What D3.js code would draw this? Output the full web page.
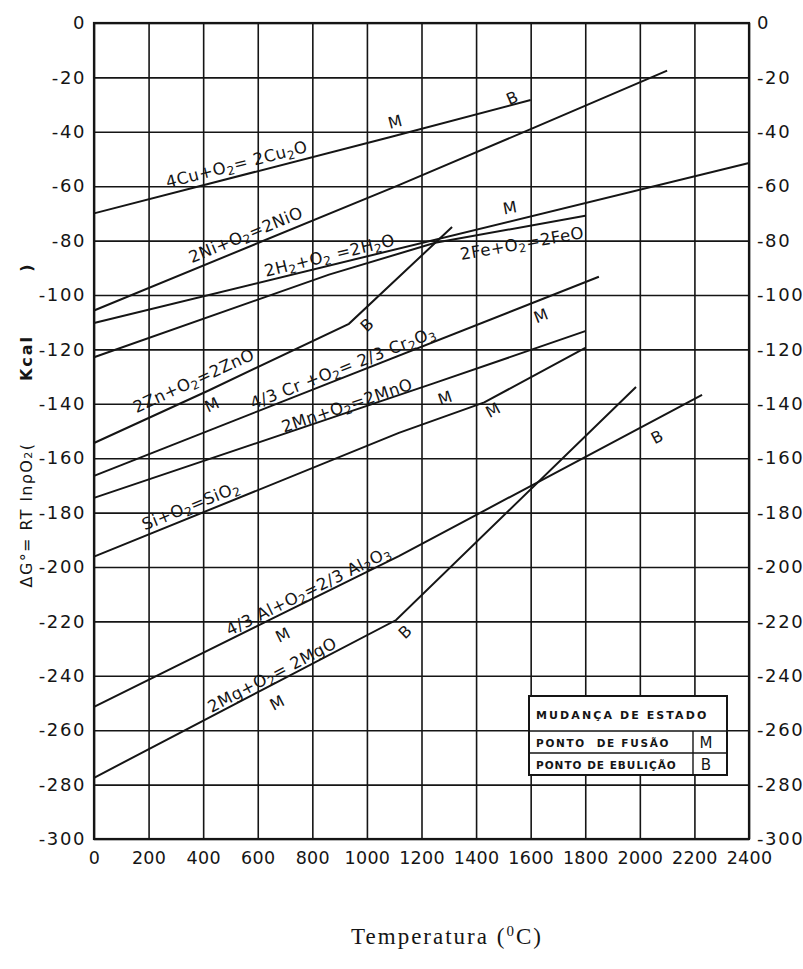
<!DOCTYPE html>
<html><head><meta charset="utf-8">
<script src="https://cdn.jsdelivr.net/npm/d3@7"></script>
<style>
html,body{margin:0;padding:0;background:#fff;}
svg{display:block;}
</style></head><body>
<svg id="chart" width="803" height="969"></svg>
<script>
// ---- data ----
const xTicks = [0,200,400,600,800,1000,1200,1400,1600,1800,2000,2200,2400];
const yTicks = [0,-20,-40,-60,-80,-100,-120,-140,-160,-180,-200,-220,-240,-260,-280,-300];

const cuLine  = [[0,-70],[1083,-42],[1600,-28.3]];
const niLine  = [[0,-105.7],[1117,-59.6],[1600,-39],[2100,-17.5]];
const h2oLine = [[0,-110.3],[2400,-51.5]];
const feoLine = [[0,-122.9],[861,-92.5],[1250,-80.8],[1800,-70.9]];
const znLine  = [[0,-154.4],[420,-135.1],[934,-110.6],[1312,-75]];
const crLine  = [[0,-166.5],[1850,-93.3]];
const mnLine  = [[0,-174.6],[1244,-132.5],[1800,-113.3]];
const siLine  = [[0,-196.2],[1117,-150.7],[1430,-139.5],[1800,-119.4]];
const alLine  = [[0,-251.4],[660,-218.6],[1117,-196],[2228,-136.7]];
const mgLine  = [[0,-277.5],[650,-243.4],[1107,-219.5],[1986,-133.8]];
const seriesList = [cuLine,niLine,h2oLine,feoLine,znLine,crLine,mnLine,siLine,alLine,mgLine];

const reactionNames = ["4Cu+O_2= 2Cu_2O","2Ni+O_2=2NiO","2H_2+O_2 =2H_2O","2Fe+O_2=2FeO","2Zn+O_2=2ZnO",
  "4/3 Cr +O_2= 2/3 Cr_2O_3","2Mn+O_2=2MnO","Si+O_2=SiO_2","4/3 Al+O_2=2/3 Al_2O_3","2Mg+O_2= 2MgO"];
const labelT = [528,564,868,1572,374,920,934,363,795,663];
const labelG = [-54.0,-79.8,-87.5,-83.1,-133.4,-128.7,-142.6,-179.4,-210.6,-241.5];

const markText   = ["M","B","M","B","M","M","M","M","B","M","B","M"];
const markT      = [1103,1532,1524,1000,432,1638,1286,1462,2063,692,1140,671];
const markG      = [-36.4,-27.6,-68,-111,-140.4,-107.7,-137.9,-142.3,-152.2,-225,-223.9,-250];
const markSeries = [0,1,3,4,4,5,6,7,8,8,9,9];

const legendTitle = "MUDANÇA DE ESTADO";
const legendRows = ["PONTO  DE FUSÃO","PONTO DE EBULIÇÃO"];
const legendCodes = ["M","B"];

const yTitle = "ΔG°= RT lnρO_2(";
const yUnit = "Kcal";
const xTitle = "Temperatura (";

// ---- chart ----
const svg = d3.select("#chart");
const x = d3.scaleLinear().domain([0,2400]).range([94,749]);
const y = d3.scaleLinear().domain([0,-300]).range([23,839]);
const ink = "#151515";
const sans = "'DejaVu Sans',sans-serif";

function addRich(sel, str, subSize){
  const parts = str.split(/(_.)/);
  parts.forEach(p=>{
    if(!p) return;
    if(p[0]==="_"){
      sel.append("tspan").attr("baseline-shift","-25%").style("font-size",subSize+"px").text(p[1]);
    } else sel.append("tspan").text(p);
  });
}

// grid + axes
const gx = svg.append("g").attr("transform",`translate(0,${y(-300)})`)
  .call(d3.axisBottom(x).tickValues(xTicks).tickSize(-(y(-300)-y(0))).tickSizeOuter(0).tickPadding(13).tickFormat(d=>String(d)));
gx.select(".domain").remove();
gx.selectAll("line").attr("stroke",ink).attr("stroke-width",1.6);
gx.selectAll("text").style("font-family",sans).style("font-size","17.5px").attr("fill",ink).attr("letter-spacing",0.3);

const gy = svg.append("g").attr("transform",`translate(${x(0)},0)`)
  .call(d3.axisLeft(y).tickValues(yTicks).tickSize(-(x(2400)-x(0))).tickSizeOuter(0).tickPadding(8).tickFormat(d=>String(d)));
gy.select(".domain").remove();
gy.selectAll("line").attr("stroke",ink).attr("stroke-width",1.6);
gy.selectAll("text").style("font-family",sans).style("font-size","18px").attr("fill",ink).attr("letter-spacing",1.6);

const gr = svg.append("g").attr("transform",`translate(${x(2400)},0)`)
  .call(d3.axisRight(y).tickValues(yTicks).tickSize(0).tickPadding(8).tickFormat(d=>String(d)));
gr.select(".domain").remove();
gr.selectAll("text").style("font-family",sans).style("font-size","18px").attr("fill",ink).attr("letter-spacing",1.6);

// frame
svg.append("rect").attr("x",x(0)).attr("y",y(0)).attr("width",x(2400)-x(0)).attr("height",y(-300)-y(0))
  .attr("fill","none").attr("stroke",ink).attr("stroke-width",2.2);

// reaction lines
const lineGen = d3.line().x(d=>x(d[0])).y(d=>y(d[1]));
svg.append("g").selectAll("path").data(seriesList).join("path")
  .attr("d",lineGen).attr("fill","none").attr("stroke",ink).attr("stroke-width",2);

function angleAt(series, T){
  let i = 0;
  while(i < series.length-2 && T > series[i+1][0]) i++;
  const a = series[i], b = series[i+1];
  return Math.atan2(y(b[1])-y(a[1]), x(b[0])-x(a[0]))*180/Math.PI;
}

// reaction labels
reactionNames.forEach((name,i)=>{
  const px = x(labelT[i]), py = y(labelG[i]);
  const ang = angleAt(seriesList[i], labelT[i]);
  const t = svg.append("text").attr("x",px).attr("y",py).attr("text-anchor","middle")
    .style("font-family",sans).style("font-size","16.5px").attr("fill",ink).attr("letter-spacing",0.5)
    .attr("transform",`rotate(${ang},${px},${py})`);
  addRich(t, name, 12);
});

// state-change marks
markText.forEach((m,i)=>{
  const px = x(markT[i]), py = y(markG[i]);
  const ang = angleAt(seriesList[markSeries[i]], markT[i]);
  svg.append("text").attr("x",px).attr("y",py).attr("text-anchor","middle").attr("dominant-baseline","central")
    .style("font-family",sans).style("font-size","16px").attr("fill",ink)
    .attr("transform",`rotate(${ang},${px},${py})`).text(m);
});

// legend
const lg = svg.append("g");
const lx0 = 529, lx1 = 727, lyTop = 696, lyMid = 731, lyRow = 753, lyBot = 775, lxCode = 693;
lg.append("rect").attr("x",lx0).attr("y",lyTop).attr("width",lx1-lx0).attr("height",lyBot-lyTop)
  .attr("fill","#fff").attr("stroke",ink).attr("stroke-width",2);
lg.append("line").attr("x1",lx0).attr("x2",lx1).attr("y1",lyMid).attr("y2",lyMid).attr("stroke",ink).attr("stroke-width",1.6);
lg.append("line").attr("x1",lx0).attr("x2",lx1).attr("y1",lyRow).attr("y2",lyRow).attr("stroke",ink).attr("stroke-width",1.4);
lg.append("line").attr("x1",lxCode).attr("x2",lxCode).attr("y1",lyMid).attr("y2",lyBot).attr("stroke",ink).attr("stroke-width",1.4);
lg.append("text").attr("x",536).attr("y",719).style("font-family",sans).style("font-size","11px").style("font-weight","bold")
  .attr("fill",ink).attr("letter-spacing",2.1).text(legendTitle);
legendRows.forEach((r,i)=>{
  lg.append("text").attr("x",536).attr("y",[747,769][i]).style("font-family",sans).style("font-size","10.5px").style("font-weight","bold")
    .attr("fill",ink).attr("letter-spacing",[1.7,1.0][i]).style("white-space","pre").text(r);
  lg.append("text").attr("x",706).attr("y",[748,770][i]).style("font-family",sans).style("font-size","15px")
    .attr("fill",ink).attr("text-anchor","middle").text(legendCodes[i]);
});

// axis titles
const ytx = 26;
const t1 = svg.append("text").attr("x",ytx).attr("y",515).attr("text-anchor","middle").attr("dominant-baseline","central")
  .style("font-family",sans).style("font-size","16px").attr("fill",ink).attr("letter-spacing",1.4)
  .attr("transform",`rotate(-90,${ytx},515)`);
addRich(t1, yTitle, 11);
svg.append("text").attr("x",ytx).attr("y",358).attr("text-anchor","middle").attr("dominant-baseline","central")
  .style("font-family",sans).style("font-size","16px").style("font-weight","bold").attr("fill",ink).attr("letter-spacing",2)
  .attr("transform",`rotate(-90,${ytx},358)`).text(yUnit);
svg.append("text").attr("x",ytx).attr("y",268).attr("text-anchor","middle").attr("dominant-baseline","central")
  .style("font-family",sans).style("font-size","16px").style("font-weight","bold").attr("fill",ink)
  .attr("transform",`rotate(-90,${ytx},268)`).text(")");

const xt = svg.append("text").attr("x",447).attr("y",944).attr("text-anchor","middle")
  .style("font-family","'Liberation Serif','Times New Roman',serif").style("font-size","23px").attr("fill",ink).attr("letter-spacing",2);
xt.append("tspan").text(xTitle);
xt.append("tspan").attr("baseline-shift","super").style("font-size","15px").text("0");
xt.append("tspan").text("C)");
</script>
</body></html>
